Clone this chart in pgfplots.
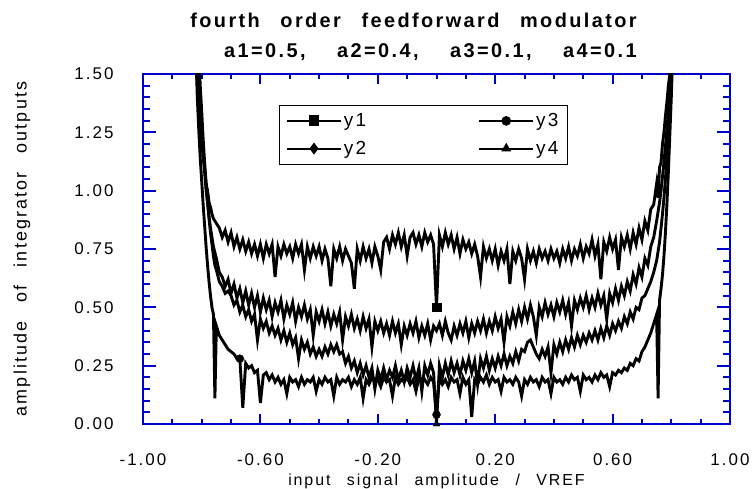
\documentclass[border=0pt]{standalone}
\usepackage{pgfplots}
\pgfplotsset{compat=1.18}
\usepackage{pgfplotstable}
\usepackage{fontspec}
\setmainfont[LetterSpace=12,WordSpace=2.6]{Liberation Sans}
\definecolor{axblue}{RGB}{0,0,205}

\pgfplotstableread{
x y
-0.820 1.60
-0.815 1.46
-0.810 1.38
-0.805 1.30
-0.800 1.22
-0.795 1.14
-0.790 1.10
-0.785 1.03
-0.780 1.00
-0.775 0.95
-0.770 0.93
-0.765 0.90
-0.76 0.88
-0.75 0.86
-0.74 0.84
-0.73 0.80
-0.72 0.83
-0.71 0.78
-0.70 0.82
-0.69 0.76
-0.68 0.80
-0.67 0.75
-0.66 0.79
-0.65 0.74
-0.64 0.78
-0.63 0.73
-0.62 0.77
-0.61 0.72
-0.60 0.77
-0.59 0.71
-0.58 0.77
-0.57 0.73
-0.56 0.77
-0.55 0.63
-0.54 0.76
-0.53 0.72
-0.52 0.77
-0.51 0.73
-0.50 0.76
-0.49 0.71
-0.48 0.77
-0.47 0.73
-0.46 0.77
-0.45 0.66
-0.44 0.76
-0.43 0.71
-0.42 0.76
-0.41 0.72
-0.40 0.76
-0.39 0.70
-0.38 0.75
-0.37 0.71
-0.36 0.59
-0.35 0.75
-0.34 0.71
-0.33 0.76
-0.32 0.70
-0.31 0.75
-0.30 0.72
-0.29 0.69
-0.28 0.58
-0.27 0.75
-0.26 0.70
-0.25 0.76
-0.24 0.71
-0.23 0.75
-0.22 0.69
-0.21 0.76
-0.20 0.72
-0.19 0.66
-0.18 0.78
-0.17 0.80
-0.16 0.75
-0.15 0.81
-0.14 0.77
-0.13 0.82
-0.12 0.76
-0.11 0.81
-0.10 0.72
-0.09 0.80
-0.08 0.82
-0.07 0.77
-0.06 0.81
-0.05 0.76
-0.04 0.82
-0.03 0.78
-0.02 0.81
-0.01 0.77
0.00 0.50
0.01 0.81
0.02 0.76
0.03 0.82
0.04 0.77
0.05 0.81
0.06 0.75
0.07 0.80
0.08 0.73
0.09 0.79
0.10 0.75
0.11 0.78
0.12 0.73
0.13 0.77
0.14 0.72
0.15 0.63
0.16 0.76
0.17 0.71
0.18 0.75
0.19 0.70
0.20 0.75
0.21 0.68
0.22 0.74
0.23 0.70
0.24 0.75
0.25 0.60
0.26 0.74
0.27 0.70
0.28 0.75
0.29 0.71
0.30 0.62
0.31 0.75
0.32 0.70
0.33 0.74
0.34 0.69
0.35 0.75
0.36 0.71
0.37 0.74
0.38 0.70
0.39 0.75
0.40 0.71
0.41 0.74
0.42 0.69
0.43 0.75
0.44 0.71
0.45 0.76
0.46 0.70
0.47 0.75
0.48 0.72
0.49 0.77
0.50 0.71
0.51 0.76
0.52 0.73
0.53 0.79
0.54 0.72
0.55 0.77
0.56 0.62
0.57 0.78
0.58 0.74
0.59 0.80
0.60 0.75
0.61 0.79
0.62 0.66
0.63 0.80
0.64 0.76
0.65 0.81
0.66 0.75
0.67 0.82
0.68 0.77
0.69 0.84
0.70 0.79
0.71 0.87
0.72 0.83
0.73 0.92
0.74 0.94
0.75 1.03
0.755 0.97
0.76 1.10
0.765 1.12
0.77 1.20
0.775 1.25
0.78 1.32
0.785 1.38
0.79 1.45
0.795 1.50
0.80 1.60
}\dataA

\pgfplotstableread{
x y
-0.815 1.60
-0.810 1.48
-0.805 1.36
-0.800 1.25
-0.795 1.16
-0.790 1.08
-0.785 1.00
-0.780 0.95
-0.775 0.89
-0.770 0.84
-0.765 0.80
-0.760 0.76
-0.75 0.71
-0.74 0.65
-0.73 0.63
-0.72 0.59
-0.71 0.62
-0.70 0.56
-0.69 0.60
-0.68 0.54
-0.67 0.58
-0.66 0.52
-0.65 0.57
-0.64 0.51
-0.63 0.56
-0.62 0.50
-0.61 0.55
-0.60 0.48
-0.59 0.54
-0.58 0.49
-0.57 0.53
-0.56 0.46
-0.55 0.52
-0.54 0.48
-0.53 0.53
-0.52 0.45
-0.51 0.51
-0.50 0.47
-0.49 0.52
-0.48 0.44
-0.47 0.50
-0.46 0.46
-0.45 0.51
-0.44 0.45
-0.43 0.49
-0.42 0.38
-0.41 0.48
-0.40 0.44
-0.39 0.49
-0.38 0.43
-0.37 0.48
-0.36 0.42
-0.35 0.47
-0.34 0.43
-0.33 0.48
-0.32 0.36
-0.31 0.46
-0.30 0.42
-0.29 0.47
-0.28 0.41
-0.27 0.45
-0.26 0.40
-0.25 0.46
-0.24 0.41
-0.23 0.45
-0.22 0.33
-0.21 0.44
-0.20 0.40
-0.19 0.44
-0.18 0.39
-0.17 0.43
-0.16 0.38
-0.15 0.44
-0.14 0.39
-0.13 0.43
-0.12 0.34
-0.11 0.42
-0.10 0.38
-0.09 0.43
-0.08 0.39
-0.07 0.44
-0.06 0.37
-0.05 0.42
-0.04 0.38
-0.03 0.43
-0.02 0.36
-0.01 0.42
0.00 0.40
0.01 0.43
0.02 0.38
0.03 0.44
0.04 0.39
0.05 0.36
0.06 0.42
0.07 0.38
0.08 0.43
0.09 0.39
0.10 0.44
0.11 0.37
0.12 0.43
0.13 0.39
0.14 0.44
0.15 0.40
0.16 0.45
0.17 0.39
0.18 0.44
0.19 0.40
0.20 0.46
0.21 0.41
0.22 0.45
0.23 0.35
0.24 0.46
0.25 0.42
0.26 0.48
0.27 0.43
0.28 0.49
0.29 0.44
0.30 0.50
0.31 0.45
0.32 0.51
0.33 0.46
0.34 0.38
0.35 0.50
0.36 0.46
0.37 0.52
0.38 0.47
0.39 0.51
0.40 0.46
0.41 0.52
0.42 0.48
0.43 0.53
0.44 0.47
0.45 0.52
0.46 0.42
0.47 0.53
0.48 0.49
0.49 0.54
0.50 0.50
0.51 0.55
0.52 0.49
0.53 0.54
0.54 0.50
0.55 0.56
0.56 0.51
0.57 0.55
0.58 0.45
0.59 0.56
0.60 0.52
0.61 0.58
0.62 0.53
0.63 0.59
0.64 0.55
0.65 0.61
0.66 0.57
0.67 0.64
0.68 0.60
0.69 0.67
0.70 0.63
0.71 0.71
0.72 0.68
0.73 0.76
0.74 0.80
0.75 0.87
0.76 0.95
0.765 1.00
0.77 1.06
0.775 1.12
0.78 1.19
0.785 1.26
0.79 1.34
0.795 1.42
0.80 1.50
0.805 1.60
}\dataB

\pgfplotstableread{
x y
-0.810 1.60
-0.805 1.45
-0.800 1.34
-0.795 1.22
-0.790 1.12
-0.785 1.03
-0.780 0.95
-0.775 0.88
-0.770 0.82
-0.765 0.77
-0.760 0.72
-0.755 0.68
-0.75 0.66
-0.74 0.61
-0.73 0.59
-0.72 0.56
-0.71 0.57
-0.70 0.55
-0.69 0.51
-0.68 0.53
-0.67 0.48
-0.66 0.51
-0.65 0.46
-0.64 0.49
-0.63 0.44
-0.62 0.47
-0.61 0.36
-0.60 0.45
-0.59 0.41
-0.58 0.44
-0.57 0.39
-0.56 0.42
-0.55 0.38
-0.54 0.41
-0.53 0.36
-0.52 0.40
-0.51 0.35
-0.50 0.39
-0.49 0.34
-0.48 0.37
-0.47 0.28
-0.46 0.36
-0.45 0.32
-0.44 0.35
-0.43 0.30
-0.42 0.33
-0.41 0.29
-0.40 0.32
-0.39 0.29
-0.38 0.33
-0.37 0.30
-0.36 0.34
-0.35 0.31
-0.34 0.34
-0.33 0.30
-0.32 0.31
-0.31 0.26
-0.30 0.29
-0.29 0.24
-0.28 0.27
-0.27 0.22
-0.26 0.26
-0.25 0.21
-0.24 0.25
-0.23 0.20
-0.22 0.24
-0.21 0.15
-0.20 0.23
-0.19 0.19
-0.18 0.24
-0.17 0.19
-0.16 0.23
-0.15 0.20
-0.14 0.25
-0.13 0.19
-0.12 0.23
-0.11 0.18
-0.10 0.24
-0.09 0.20
-0.08 0.25
-0.07 0.19
-0.06 0.24
-0.05 0.14
-0.04 0.25
-0.03 0.21
-0.02 0.26
-0.01 0.22
0.00 0.00
0.01 0.25
0.02 0.20
0.03 0.26
0.04 0.21
0.05 0.27
0.06 0.22
0.07 0.26
0.08 0.21
0.09 0.27
0.10 0.23
0.11 0.28
0.12 0.22
0.13 0.27
0.14 0.17
0.15 0.28
0.16 0.24
0.17 0.29
0.18 0.23
0.19 0.28
0.20 0.24
0.21 0.29
0.22 0.25
0.23 0.30
0.24 0.25
0.25 0.29
0.26 0.26
0.27 0.31
0.28 0.27
0.29 0.32
0.30 0.31
0.31 0.35
0.32 0.36
0.33 0.33
0.34 0.30
0.35 0.28
0.36 0.32
0.37 0.29
0.38 0.33
0.39 0.22
0.40 0.34
0.41 0.30
0.42 0.35
0.43 0.31
0.44 0.36
0.45 0.32
0.46 0.37
0.47 0.33
0.48 0.38
0.49 0.34
0.50 0.38
0.51 0.35
0.52 0.39
0.53 0.36
0.54 0.40
0.55 0.36
0.56 0.41
0.57 0.37
0.58 0.42
0.59 0.38
0.60 0.43
0.61 0.40
0.62 0.44
0.63 0.41
0.64 0.46
0.65 0.43
0.66 0.48
0.67 0.45
0.68 0.50
0.69 0.49
0.70 0.54
0.71 0.55
0.72 0.58
0.73 0.61
0.74 0.65
0.75 0.70
0.76 0.78
0.765 0.84
0.77 0.90
0.775 0.97
0.78 1.05
0.785 1.14
0.79 1.24
0.795 1.36
0.80 1.48
0.805 1.60
}\dataC

\pgfplotstableread{
x y
-0.820 1.60
-0.815 1.40
-0.810 1.26
-0.805 1.14
-0.800 1.04
-0.795 0.94
-0.790 0.85
-0.785 0.76
-0.780 0.68
-0.775 0.61
-0.770 0.55
-0.765 0.50
-0.760 0.47
-0.755 0.11
-0.750 0.42
-0.74 0.38
-0.73 0.36
-0.72 0.34
-0.71 0.32
-0.70 0.31
-0.69 0.30
-0.68 0.28
-0.67 0.28
-0.66 0.07
-0.65 0.26
-0.64 0.24
-0.63 0.25
-0.62 0.22
-0.61 0.23
-0.60 0.09
-0.59 0.21
-0.58 0.22
-0.57 0.19
-0.56 0.21
-0.55 0.18
-0.54 0.20
-0.53 0.17
-0.52 0.19
-0.51 0.13
-0.50 0.20
-0.49 0.18
-0.48 0.19
-0.47 0.16
-0.46 0.20
-0.45 0.17
-0.44 0.19
-0.43 0.18
-0.42 0.20
-0.41 0.14
-0.40 0.19
-0.39 0.17
-0.38 0.20
-0.37 0.18
-0.36 0.19
-0.35 0.12
-0.34 0.20
-0.33 0.17
-0.32 0.19
-0.31 0.18
-0.30 0.20
-0.29 0.16
-0.28 0.19
-0.27 0.17
-0.26 0.20
-0.25 0.11
-0.24 0.19
-0.23 0.17
-0.22 0.20
-0.21 0.18
-0.20 0.19
-0.19 0.16
-0.18 0.20
-0.17 0.18
-0.16 0.19
-0.15 0.12
-0.14 0.20
-0.13 0.17
-0.12 0.19
-0.11 0.18
-0.10 0.20
-0.09 0.17
-0.08 0.19
-0.07 0.14
-0.06 0.20
-0.05 0.18
-0.04 0.19
-0.03 0.17
-0.02 0.20
-0.01 0.18
0.00 0.04
0.01 0.20
0.02 0.17
0.03 0.19
0.04 0.16
0.05 0.20
0.06 0.18
0.07 0.19
0.08 0.13
0.09 0.20
0.10 0.17
0.11 0.19
0.12 0.03
0.13 0.19
0.14 0.17
0.15 0.20
0.16 0.18
0.17 0.21
0.18 0.17
0.19 0.20
0.20 0.18
0.21 0.19
0.22 0.14
0.23 0.20
0.24 0.18
0.25 0.19
0.26 0.17
0.27 0.20
0.28 0.18
0.29 0.12
0.30 0.19
0.31 0.17
0.32 0.20
0.33 0.18
0.34 0.19
0.35 0.16
0.36 0.20
0.37 0.18
0.38 0.19
0.39 0.13
0.40 0.20
0.41 0.18
0.42 0.19
0.43 0.17
0.44 0.20
0.45 0.18
0.46 0.21
0.47 0.19
0.48 0.20
0.49 0.14
0.50 0.21
0.51 0.19
0.52 0.20
0.53 0.18
0.54 0.21
0.55 0.19
0.56 0.22
0.57 0.20
0.58 0.21
0.59 0.16
0.60 0.22
0.61 0.21
0.62 0.23
0.63 0.22
0.64 0.24
0.65 0.23
0.66 0.26
0.67 0.25
0.68 0.28
0.69 0.27
0.70 0.31
0.71 0.33
0.72 0.36
0.73 0.39
0.74 0.43
0.75 0.47
0.755 0.11
0.76 0.53
0.765 0.58
0.77 0.64
0.775 0.72
0.78 0.82
0.785 0.94
0.79 1.08
0.795 1.24
0.80 1.40
0.805 1.60
}\dataD

\begin{document}
\begin{tikzpicture}
\useasboundingbox (-143bp,-65bp) rectangle (611bp,424bp);
\begin{axis}[
  scale only axis,
  width=587bp, height=350bp,
  xmin=-1, xmax=1, ymin=0, ymax=1.5,
  clip mode=individual,
  axis line style={axblue, line width=2.2bp},
  every tick/.style={axblue, line width=2bp},
  tick align=inside,
  xtick={-1,-0.6,-0.2,0.2,0.6,1},
  xticklabels={-1.00,-0.60,-0.20,0.20,0.60,1.00},
  ytick={0,0.25,0.5,0.75,1,1.25,1.5},
  yticklabels={0.00,0.25,0.50,0.75,1.00,1.25,1.50},
  minor x tick num=3,
  minor y tick num=4,
  xtick style={/pgfplots/major tick length=10bp,/pgfplots/minor tick length=5bp},
  ytick style={/pgfplots/major tick length=13bp,/pgfplots/minor tick length=7bp},
  ticklabel style={font=\fontsize{17}{19}\selectfont},
  xticklabel style={yshift=-26bp},
  yticklabel style={xshift=-26bp},
  xlabel={input signal amplitude / VREF},
  ylabel={amplitude of integrator outputs},
  xlabel style={font=\fontsize{16}{19}\selectfont, at={(axis description cs:0.5,0)}, anchor=center, yshift=-57bp},
  ylabel style={font=\fontsize{18}{20}\selectfont, at={(axis description cs:-0.2061,0.5)}, anchor=center},
  legend columns=2,
  legend style={at={(0.231,0.911)}, anchor=north west, draw=black, line width=0.8bp,
    font=\fontsize{19}{21}\selectfont, inner xsep=7bp, inner ysep=6bp,
    row sep=9bp,
    /tikz/every even column/.append style={column sep=110bp}},
  legend cell align=left,
  legend image code/.code={\draw[#1,mark repeat=2,mark phase=2] plot coordinates {(0bp,0bp) (27bp,0bp) (54bp,0bp)};},
]
\addlegendimage{black, line width=2bp, mark=square*, mark size=4.4bp}
\addlegendentry{y1}
\addlegendimage{black, line width=2bp, mark=*, mark size=3.8bp}
\addlegendentry{y3}
\addlegendimage{black, line width=2bp, mark=diamond*, mark size=4.4bp}
\addlegendentry{y2}
\addlegendimage{black, line width=2bp, mark=triangle*, mark size=3.8bp}
\addlegendentry{y4}

\addplot[black, line width=2.9bp, no markers, forget plot] table {\dataA};
\addplot[black, line width=2.9bp, no markers, forget plot] table {\dataB};
\addplot[black, line width=2.9bp, no markers, forget plot] table {\dataC};
\addplot[black, line width=2.9bp, no markers, forget plot] table {\dataD};

\addplot[only marks, mark=square*, mark size=4.2bp, black, forget plot] coordinates {(0,0.50)};
\addplot[only marks, mark=*, mark size=4bp, black, forget plot] coordinates {(-0.67,0.28) (0,0.04)};
\addplot[only marks, mark=triangle*, mark size=4bp, black, forget plot] coordinates {(0,0.00)};

\node[font=\bfseries\fontsize{20}{30}\selectfont, align=right, anchor=south east]
  at (rel axis cs:0.847,1) [yshift=10bp] {fourth order feedforward modulator\\ a1=0.5,\hspace{11bp} a2=0.4,\hspace{11bp} a3=0.1,\hspace{11bp} a4=0.1};
\end{axis}
\end{tikzpicture}
\end{document}
